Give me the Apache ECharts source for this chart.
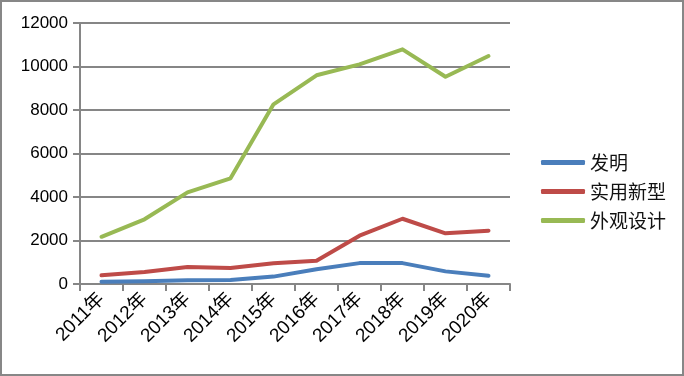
<!DOCTYPE html>
<html><head><meta charset="utf-8">
<script src="https://cdn.jsdelivr.net/npm/echarts@6/dist/echarts.min.js"></script>
<style>html,body{margin:0;padding:0;background:#fff}#c{width:684px;height:376px;box-sizing:border-box;border:2px solid #878787}</style>
</head><body><div id="c"></div>
<script>
var categories = ['2011年','2012年','2013年','2014年','2015年','2016年','2017年','2018年','2019年','2020年'];
var seriesNames = ['发明','实用新型','外观设计'];
var invention = [100, 130, 170, 180, 340, 680, 960, 960, 580, 380];
var utility = [400, 550, 780, 735, 950, 1070, 2220, 3000, 2330, 2450];
var design = [2170, 2975, 4215, 4860, 8260, 9595, 10100, 10790, 9530, 10480];
var yTicks = {min: 0, max: 12000, interval: 2000};
var colors = ['#4a7ebb', '#be4b48', '#98b954'];

var chart = echarts.init(document.getElementById('c'), null, {renderer: 'canvas'});
var font = '"Liberation Sans", "Noto Sans CJK SC", sans-serif';
function mk(name, data, i) {
  return {name: name, type: 'line', data: data, symbol: 'none', smooth: false,
    lineStyle: {width: 4, color: colors[i], cap: 'round', join: 'round'}, itemStyle: {color: colors[i]}};
}
chart.setOption({
  animation: false,
  grid: {left: 78, right: 172, top: 21, bottom: 90, containLabel: false},
  legend: {orient: 'vertical', left: 534, top: 146, itemGap: 10, itemWidth: 44, itemHeight: 5,
    icon: 'roundRect',
    textStyle: {fontSize: 19, color: '#111', fontFamily: '"Noto Sans CJK SC", sans-serif', padding: [0, 0, 0, 0]},
    data: seriesNames},
  xAxis: {type: 'category', data: categories, boundaryGap: true,
    axisLine: {lineStyle: {color: '#868686', width: 2}},
    axisTick: {show: true, alignWithLabel: false, length: 7, lineStyle: {color: '#868686', width: 2}},
    axisLabel: {rotate: 45, fontSize: 19, color: '#000', fontFamily: font, margin: 12, interval: 0}},
  yAxis: {type: 'value', min: yTicks.min, max: yTicks.max, interval: yTicks.interval,
    axisLine: {show: true, lineStyle: {color: '#868686', width: 2}},
    axisTick: {show: true, length: 7, lineStyle: {color: '#868686', width: 2}},
    splitLine: {lineStyle: {color: '#868686', width: 2}},
    axisLabel: {fontSize: 17, color: '#000', fontFamily: font, margin: 12, formatter: function (v) { return String(v); }}},
  series: [mk(seriesNames[0], invention, 0), mk(seriesNames[1], utility, 1), mk(seriesNames[2], design, 2)]
});
</script></body></html>
